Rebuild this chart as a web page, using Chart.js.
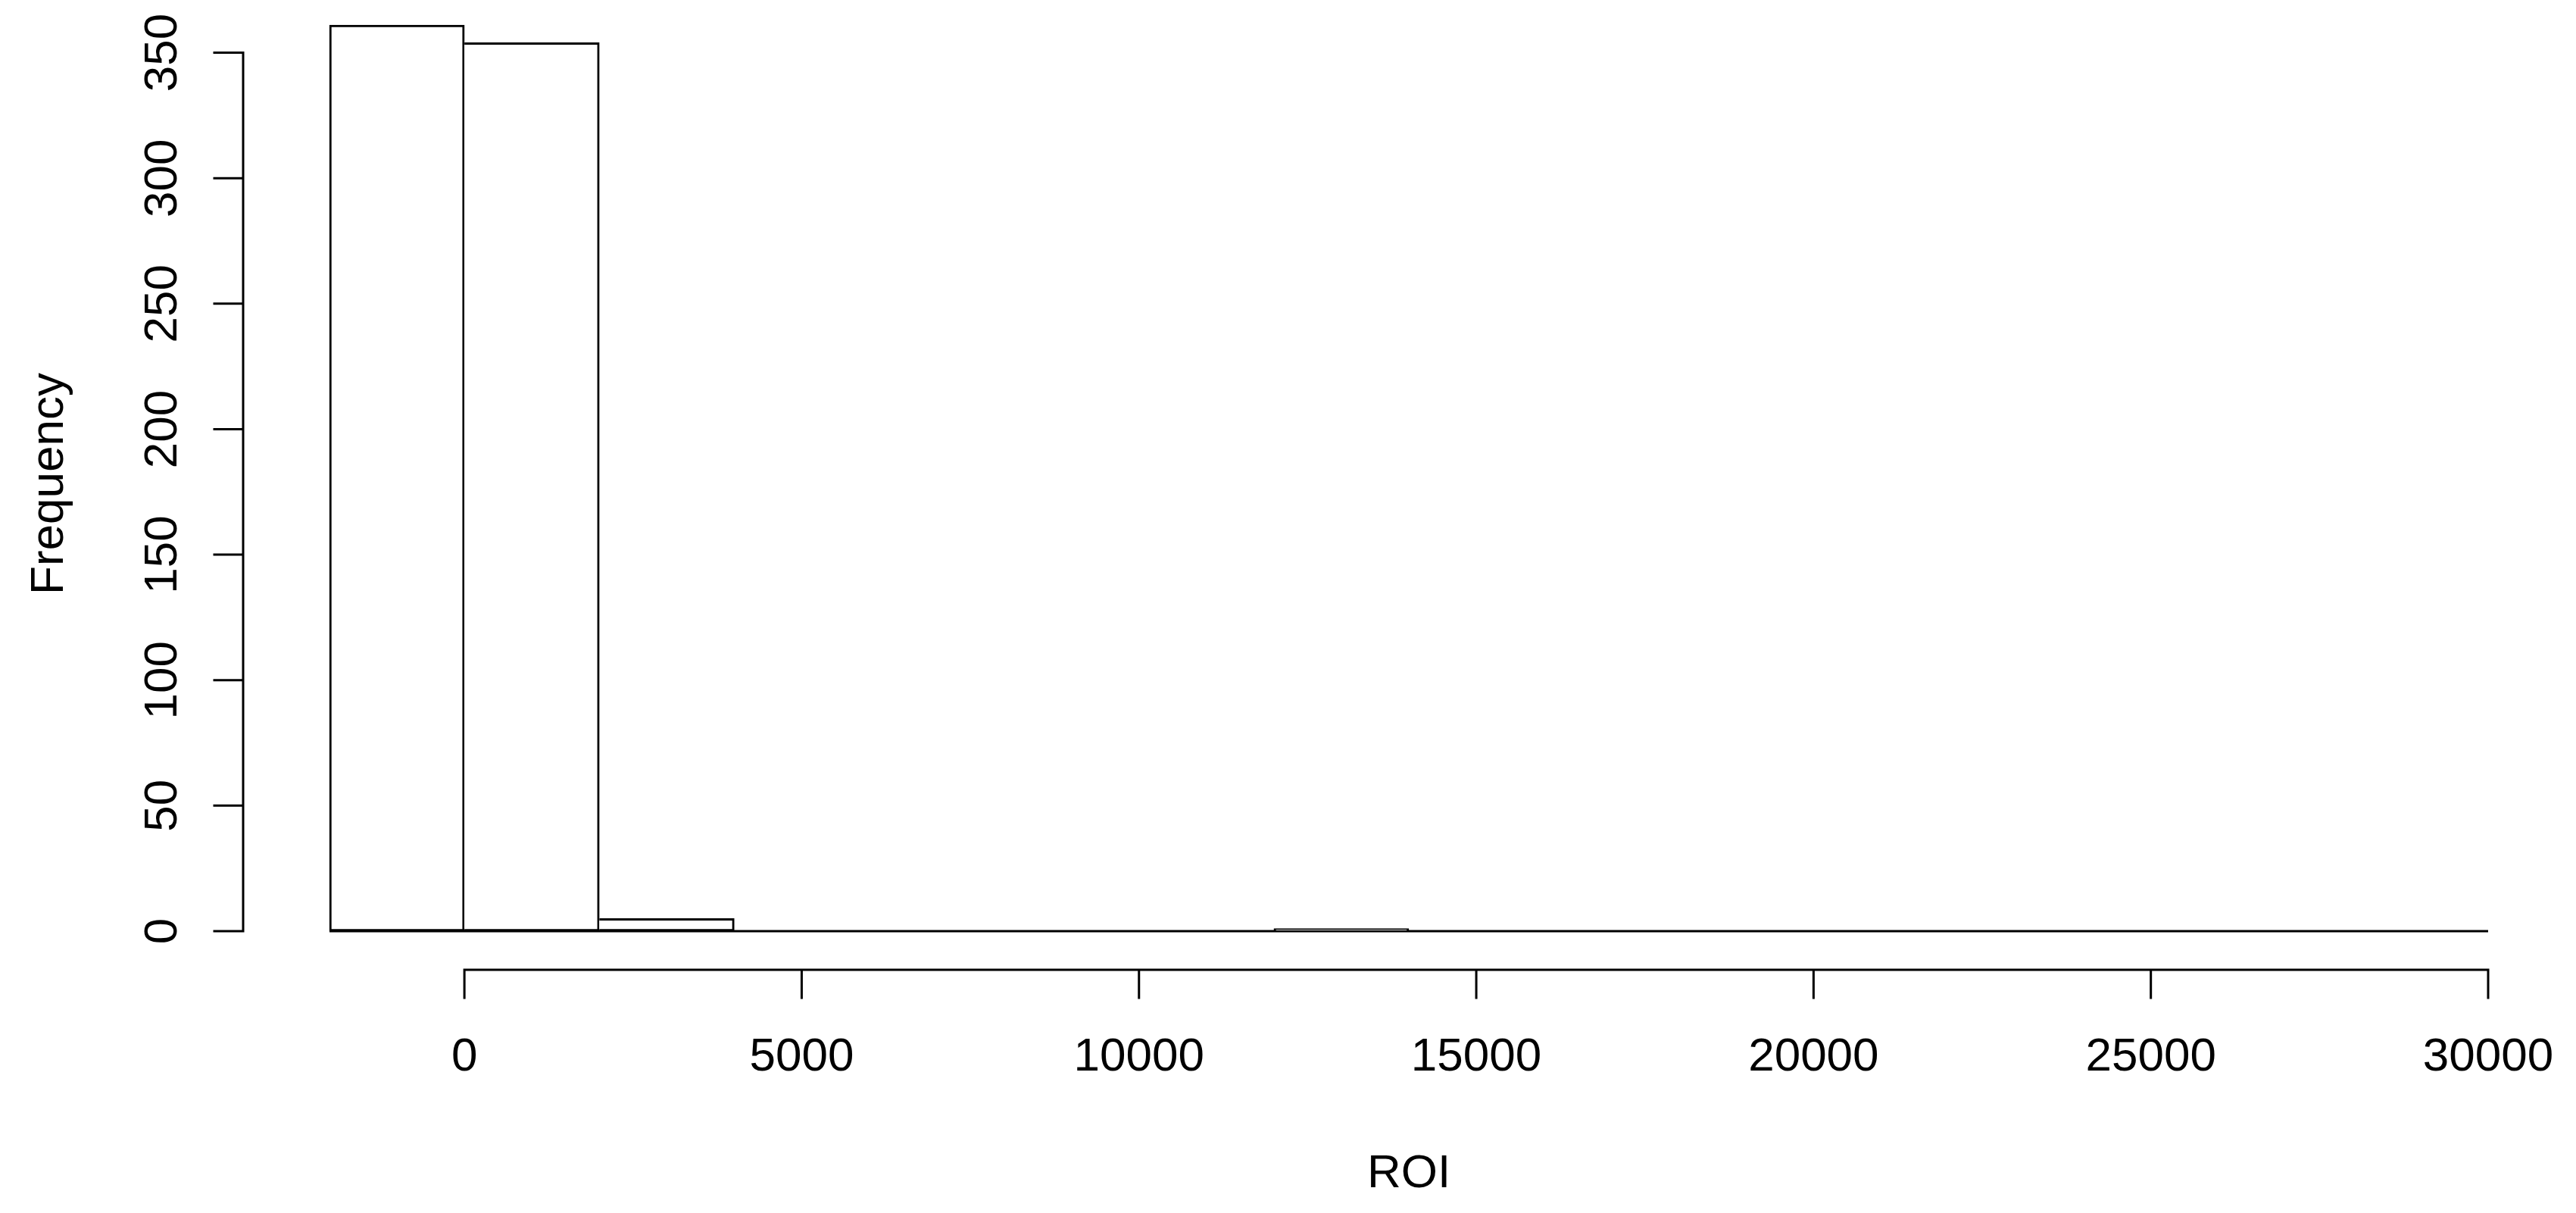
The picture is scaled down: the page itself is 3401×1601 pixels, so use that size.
<!DOCTYPE html>
<html>
<head>
<meta charset="utf-8">
<title>ROI histogram</title>
<script src="https://cdn.jsdelivr.net/npm/chart.js@4.4.1/dist/chart.umd.min.js"></script>
<style>
  html, body { margin: 0; padding: 0; background: #fff; }
</style>
</head>
<body>
<canvas id="roi-hist" width="3401" height="1601"></canvas>
<script>
// Histogram bins (ROI) and counts
const binEdges = [-2000, 0, 2000, 4000, 6000, 8000, 10000, 12000, 14000,
                  16000, 18000, 20000, 22000, 24000, 26000, 28000, 30000];
const counts = [361, 354, 5, 0, 0, 0, 0, 1, 0, 0, 0, 0, 0, 0, 0, 0];
const xTicks = [0, 5000, 10000, 15000, 20000, 25000, 30000];
const yTicks = [0, 50, 100, 150, 200, 250, 300, 350];
const xTitle = 'ROI';
const yTitle = 'Frequency';

const FONT = '62px "Liberation Sans", Arial, sans-serif';
const LW = 3;

// bars as {x: bin centre, y: count}
const barData = counts.map((c, i) => ({ x: (binEdges[i] + binEdges[i + 1]) / 2, y: c }));
// empty bins are drawn by R as a flat line along zero
const zeroLine = [{ x: binEdges[0], y: 0 }, { x: binEdges[binEdges.length - 1], y: 0 }];

// R-style axes: detached lines that only span the tick range
const rAxes = {
    id: 'rAxes',
    afterDraw(chart) {
        const { ctx, chartArea } = chart;
        const x = chart.scales.x;
        const y = chart.scales.y;
        ctx.save();
        ctx.strokeStyle = '#000';
        ctx.fillStyle = '#000';
        ctx.lineWidth = LW;
        ctx.lineCap = 'square';
        ctx.font = FONT;

        // x axis
        const axY = chartArea.bottom + 3;
        ctx.beginPath();
        ctx.moveTo(x.getPixelForValue(xTicks[0]), axY);
        ctx.lineTo(x.getPixelForValue(xTicks[xTicks.length - 1]), axY);
        xTicks.forEach(v => {
            const px = x.getPixelForValue(v);
            ctx.moveTo(px, axY);
            ctx.lineTo(px, axY + 37);
        });
        ctx.stroke();
        ctx.textAlign = 'center';
        ctx.textBaseline = 'alphabetic';
        xTicks.forEach(v => ctx.fillText(String(v), x.getPixelForValue(v), 1413));

        // y axis
        const axX = chartArea.left;
        ctx.beginPath();
        ctx.moveTo(axX, y.getPixelForValue(yTicks[0]));
        ctx.lineTo(axX, y.getPixelForValue(yTicks[yTicks.length - 1]));
        yTicks.forEach(v => {
            const py = y.getPixelForValue(v);
            ctx.moveTo(axX, py);
            ctx.lineTo(axX - 38, py);
        });
        ctx.stroke();
        yTicks.forEach(v => {
            ctx.save();
            ctx.translate(233, y.getPixelForValue(v));
            ctx.rotate(-Math.PI / 2);
            ctx.fillText(String(v), 0, 0);
            ctx.restore();
        });

        // titles
        ctx.fillText(xTitle, (chartArea.left + chartArea.right) / 2, 1567);
        ctx.save();
        ctx.translate(83, (chartArea.top + chartArea.bottom) / 2);
        ctx.rotate(-Math.PI / 2);
        ctx.fillText(yTitle, 0, 0);
        ctx.restore();

        ctx.restore();
    }
};

document.addEventListener('DOMContentLoaded', () => {
    const ctx = document.getElementById('roi-hist').getContext('2d');
    const roiChart = new Chart(ctx, {
        type: 'bar',
        data: {
            datasets: [{
                label: 'Frequency',
                data: barData,
                backgroundColor: '#ffffff',
                borderColor: '#000000',
                // shared edge with a taller left neighbour is drawn once, like R
                borderWidth: (c) => {
                    const i = c.dataIndex;
                    const left = (i > 0 && counts[i - 1] >= counts[i]) ? 0 : LW;
                    return { top: LW, bottom: LW, right: LW, left: left };
                },
                borderSkipped: false,
                barPercentage: 1,
                categoryPercentage: 1,
            }, {
                type: 'line',
                label: 'zero',
                data: zeroLine,
                borderColor: '#000000',
                borderWidth: LW,
                pointRadius: 0,
                fill: false,
            }]
        },
        options: {
            responsive: false,
            animation: false,
            devicePixelRatio: 1,
            layout: {
                padding: { left: 321, right: 2, top: 0, bottom: 324 }
            },
            scales: {
                x: {
                    type: 'linear', min: -3280, max: 31280, display: false,
                    offset: false, grid: { offset: false },
                    // keep the hidden ticks on round values so bar width = bin width
                    ticks: { includeBounds: false, stepSize: 5000 }
                },
                y: { type: 'linear', min: -14.5, max: 371, display: false },
            },
            plugins: {
                legend: { display: false },
                tooltip: { enabled: false },
            },
        },
        plugins: [rAxes]
    });
});
</script>
</body>
</html>
